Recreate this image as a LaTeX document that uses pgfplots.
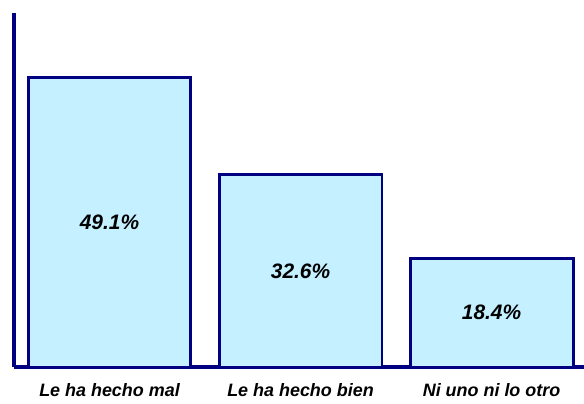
\documentclass[border=0pt]{standalone}
\usepackage{fontspec}
\setmainfont{Liberation Sans}
\usepackage{pgfplots}
\pgfplotsset{compat=1.18}
\usetikzlibrary{calc}
\definecolor{navy}{HTML}{000080}
\definecolor{celeste}{HTML}{C4F0FF}

\begin{document}
\begin{tikzpicture}[font=\fontsize{18}{20}\selectfont\bfseries\itshape]
\begin{axis}[scale only axis,width=570bp,height=354bp,
  xmin=-0.5,xmax=2.484,ymin=0,ymax=60,
  axis lines=left,axis line style={navy,line width=3.2pt,-},
  xtick={0,1,2},xticklabels={Le ha hecho mal,Le ha hecho bien,Ni uno ni lo otro},
  major tick length=0pt,ytick=\empty,
  xticklabel style={yshift=-15bp,inner sep=1pt,font=\fontsize{18}{20}\selectfont\bfseries\itshape},
  clip=false]
\addplot[ybar,bar width=0.853,fill=celeste,draw=navy,line width=3pt] coordinates {(0,49.1)(1,32.6)(2,18.4)};
\addplot[only marks,mark=none,nodes near coords,point meta=explicit symbolic,
  every node near coord/.style={anchor=center,font=\fontsize{21}{24}\selectfont\bfseries\itshape}]
  coordinates {(0,24.55)[49.1\%] (1,16.3)[32.6\%] (2,9.2)[18.4\%]};
\end{axis}
\pgfresetboundingbox
\path ($(current axis.south west)+(-14bp,-37bp)$) rectangle ($(current axis.north east)+(0,13bp)$);
\end{tikzpicture}
\end{document}
